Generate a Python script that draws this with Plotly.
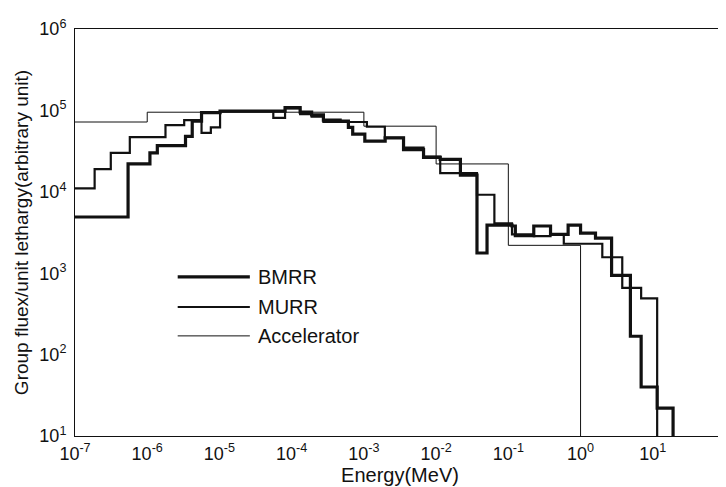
import plotly.graph_objects as go

# ---------------- data ----------------
series_names = ["BMRR", "MURR", "Accelerator"]

bmrr_edges = [1e-7, 5.43e-7, 1.09e-6, 1.38e-6, 3.39e-6, 4.2e-6, 5.65e-6, 1.02e-5,
              8.1e-5, 1.31e-4, 1.89e-4, 2.75e-4, 4.69e-4, 6.1e-4, 7.0e-4, 1.03e-3,
              1.97e-3, 3.54e-3, 6.7e-3, 1.14e-2, 2.17e-2, 3.68e-2, 5.07e-2, 0.1124,
              0.125, 0.225, 0.384, 0.673, 1.0, 1.61, 2.69, 4.9, 6.9, 11.5, 19.1]
bmrr_flux = [4.9e3, 2.2e4, 3.0e4, 3.7e4, 4.8e4, 7.4e4, 9.4e4, 9.8e4,
             1.08e5, 9.5e4, 8.8e4, 7.6e4, 7.4e4, 6.2e4, 5.1e4, 4.2e4,
             4.6e4, 3.3e4, 2.65e4, 2.5e4, 1.6e4, 1.77e3, 3.9e3, 3.8e3,
             2.9e3, 3.8e3, 3.0e3, 3.9e3, 3.1e3, 2.7e3, 9.4e2, 168, 40, 22]

murr_edges = [1e-7, 1.87e-7, 3.13e-7, 5.74e-7, 1.79e-6, 3.25e-6, 5.65e-6, 7.6e-6,
              1.02e-5, 5.57e-5, 8.1e-5, 1.31e-4, 1.89e-4, 2.75e-4, 1.1e-3, 1.95e-3,
              3.54e-3, 6.7e-3, 1.14e-2, 3.68e-2, 6.41e-2, 0.1124, 0.225, 0.384,
              0.586, 2.0, 3.78, 6.9, 11.5]
murr_flux = [1.1e4, 1.9e4, 3.0e4, 4.7e4, 6.6e4, 7.6e4, 5.3e4, 6.2e4,
             9.8e4, 8.1e4, 1.06e5, 9.0e4, 8.4e4, 7.2e4, 6.3e4, 4.6e4,
             3.5e4, 2.7e4, 1.7e4, 9.2e3, 4.1e3, 3.0e3, 2.85e3, 3.0e3,
             2.3e3, 1.57e3, 660, 490]

acc_edges = [1e-7, 1e-6, 1e-3, 1e-2, 1e-1, 1.0]
acc_flux = [7.2e4, 9.5e4, 6.4e4, 2.2e4, 2.2e3]

x_tickvals = [1e-7, 1e-6, 1e-5, 1e-4, 1e-3, 1e-2, 1e-1, 1e0, 1e1, 1e2]
x_ticktext = ["10<sup>-7</sup>", "10<sup>-6</sup>", "10<sup>-5</sup>", "10<sup>-4</sup>",
              "10<sup>-3</sup>", "10<sup>-2</sup>", "10<sup>-1</sup>", "10<sup>0</sup>",
              "10<sup>1</sup>", "10<sup>2</sup>"]
y_tickvals = [1e1, 1e2, 1e3, 1e4, 1e5, 1e6]
y_ticktext = ["10<sup>1</sup>", "10<sup>2</sup>", "10<sup>3</sup>", "10<sup>4</sup>",
              "10<sup>5</sup>", "10<sup>6</sup>"]

floor_value = 1.0  # spectra fall off the bottom of the axis after the last group

# ---------------- figure ----------------
NARROW = "Liberation Sans Narrow, Arial Narrow, Liberation Sans, Arial, sans-serif"
REG = "Liberation Sans, Arial, sans-serif"

widths = [3.2, 2.2, 1.0]
fig = go.Figure()
for name, edges, flux, w in zip(series_names,
                                [bmrr_edges, murr_edges, acc_edges],
                                [bmrr_flux, murr_flux, acc_flux], widths):
    fig.add_trace(go.Scatter(
        x=edges, y=list(flux) + [floor_value], mode="lines", name=name,
        line=dict(shape="hv", color="#111111", width=w), showlegend=False))

# legend drawn inside the plot (long line samples like the reference)
leg_y = [0.391, 0.317, 0.246]
for name, yy, w in zip(series_names, leg_y, widths):
    fig.add_shape(type="line", xref="paper", yref="paper", x0=0.158, x1=0.269,
                  y0=yy, y1=yy, line=dict(color="#111111", width=w))
    fig.add_annotation(xref="paper", yref="paper", x=0.279, y=yy, text=name,
                       showarrow=False, xanchor="left", yanchor="middle",
                       font=dict(family=NARROW, size=20, color="#111111"))

fig.update_layout(
    width=726, height=487,
    margin=dict(l=67, r=9, t=21, b=59, autoexpand=False),
    paper_bgcolor="white", plot_bgcolor="white",
    showlegend=False,
)
fig.update_xaxes(
    type="log", range=[-7, 2], tickvals=x_tickvals, ticktext=x_ticktext,
    showgrid=False, zeroline=False, showline=True, linecolor="#111111",
    linewidth=1, mirror=True, ticks="", ticklabelstandoff=1,
    tickfont=dict(family=NARROW, size=18, color="#111111"),
    title=dict(text="Energy(MeV)", standoff=5,
               font=dict(family=NARROW, size=20, color="#111111")),
)
fig.update_yaxes(
    type="log", range=[1, 6], tickvals=y_tickvals, ticktext=y_ticktext,
    showgrid=False, zeroline=False, showline=True, linecolor="#111111",
    linewidth=1, mirror=False, ticks="", ticklabelstandoff=4,
    tickfont=dict(family=NARROW, size=18, color="#111111"),
    title=dict(text="Group fluex/unit lethargy(arbitrary unit)", standoff=5,
               font=dict(family=REG, size=19, color="#111111")),
)

fig.write_html("out.html")
